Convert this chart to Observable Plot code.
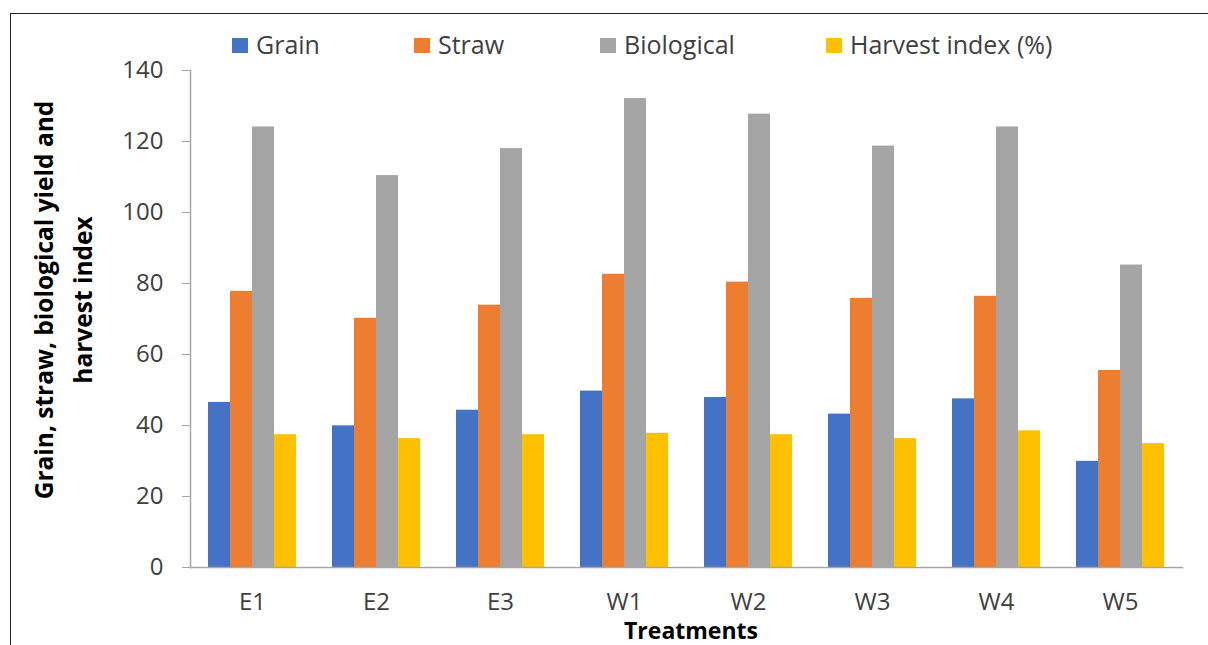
<!DOCTYPE html>
<html>
<head>
<meta charset="utf-8">
<script src="https://cdn.jsdelivr.net/npm/d3@7"></script>
<script src="https://cdn.jsdelivr.net/npm/@observablehq/plot@0.6"></script>
<style>
  html, body { margin: 0; padding: 0; background: #ffffff; }
  #wrap { position: relative; width: 1208px; height: 645px; overflow: hidden; background: #fff; font-family: 'Open Sans', sans-serif; }
  #frame { position: absolute; left: 10px; top: 13px; width: 1300px; height: 700px; border-top: 1.5px solid #222; border-left: 1.5px solid #222; box-sizing: border-box; }
  #chart { position: absolute; left: 0; top: 0; }
  .leg { position: absolute; top: 29px; height: 30px; display: flex; align-items: center; font-size: 25px; color: #404040; white-space: nowrap; }
  .leg .sw { width: 16px; height: 15px; margin-right: 8px; margin-top: 3px; }
  #ytitle { position: absolute; left: 63px; top: 300px; width: 440px; transform: translate(-50%, -50%) rotate(-90deg); text-align: center; font-weight: bold; font-size: 24.5px; line-height: 39px; color: #000; white-space: nowrap; }
  #xtitle { position: absolute; left: 691px; top: 615px; transform: translateX(-50%); font-weight: bold; font-size: 23px; line-height: 30px; color: #000; white-space: nowrap; }
</style>
</head>
<body>
<div id="wrap">
  <div id="frame"></div>
  <div id="chart"></div>
  <div id="legend"></div>
  <div id="ytitle">Grain, straw, biological yield and<br>harvest index</div>
  <div id="xtitle">Treatments</div>
</div>
<script>
// ---- data ----
const treatments = ["E1", "E2", "E3", "W1", "W2", "W3", "W4", "W5"];
const seriesNames = ["Grain", "Straw", "Biological", "Harvest index (%)"];
const grain = [46.5, 39.9, 44.3, 49.7, 47.9, 43.2, 47.5, 29.9];
const straw = [77.8, 70.2, 73.9, 82.6, 80.4, 75.8, 76.4, 55.5];
const biological = [124.1, 110.4, 118.0, 132.1, 127.7, 118.7, 124.1, 85.2];
const harvestIndex = [37.4, 36.3, 37.4, 37.8, 37.4, 36.3, 38.5, 34.9];
const yTicks = [0, 20, 40, 60, 80, 100, 120, 140];
const seriesColors = ["#4472C4", "#ED7D31", "#A5A5A5", "#FFC000"];

// ---- table built from the arrays ----
const seriesValues = [grain, straw, biological, harvestIndex];
const rows = [];
treatments.forEach((t, i) => {
  seriesNames.forEach((s, j) => {
    rows.push({ treatment: t, series: s, value: seriesValues[j][i] });
  });
});

// ---- legend (HTML, above the svg) ----
const legendLeft = [232, 414, 600, 826];
const legend = document.getElementById("legend");
seriesNames.forEach((s, j) => {
  const item = document.createElement("div");
  item.className = "leg";
  item.style.left = legendLeft[j] + "px";
  const sw = document.createElement("span");
  sw.className = "sw";
  sw.style.background = seriesColors[j];
  const tx = document.createElement("span");
  tx.textContent = s;
  item.appendChild(sw);
  item.appendChild(tx);
  legend.appendChild(item);
});

// ---- chart ----
const axisGray = "#a6a6a6";
const outerPad = 17; // half of the gap between groups, outside the facets
const chart = Plot.plot({
  width: 1208,
  height: 645,
  marginTop: 70,
  marginBottom: 78,
  marginLeft: 190,
  marginRight: 25,
  style: { fontFamily: "'Open Sans', sans-serif", fontSize: "24px", color: "#404040", background: "transparent", overflow: "visible" },
  fx: { domain: treatments, paddingInner: 0.272, paddingOuter: 0.136, label: null },
  x: { domain: seriesNames, padding: 0, axis: null },
  y: { domain: [0, 140], ticks: yTicks },
  color: { domain: seriesNames, range: seriesColors },
  marks: [
    Plot.barY(rows, { fx: "treatment", x: "series", y: "value", fill: "series" }),
    Plot.frame({ anchor: "bottom", stroke: axisGray, strokeWidth: 1.5, facet: "super", insetLeft: -outerPad, insetRight: -outerPad }),
    Plot.frame({ anchor: "left", stroke: axisGray, strokeWidth: 1.5, facet: "super", dx: -outerPad }),
    Plot.axisY({ ticks: yTicks, tickSize: 8, tickPadding: 19, label: null, stroke: axisGray, fill: "#404040", dx: -outerPad }),
    Plot.axisFx({ anchor: "bottom", tickSize: 0, tickPadding: 25, label: null, fill: "#404040" })
  ]
});
document.getElementById("chart").appendChild(chart);
</script>
</body>
</html>
